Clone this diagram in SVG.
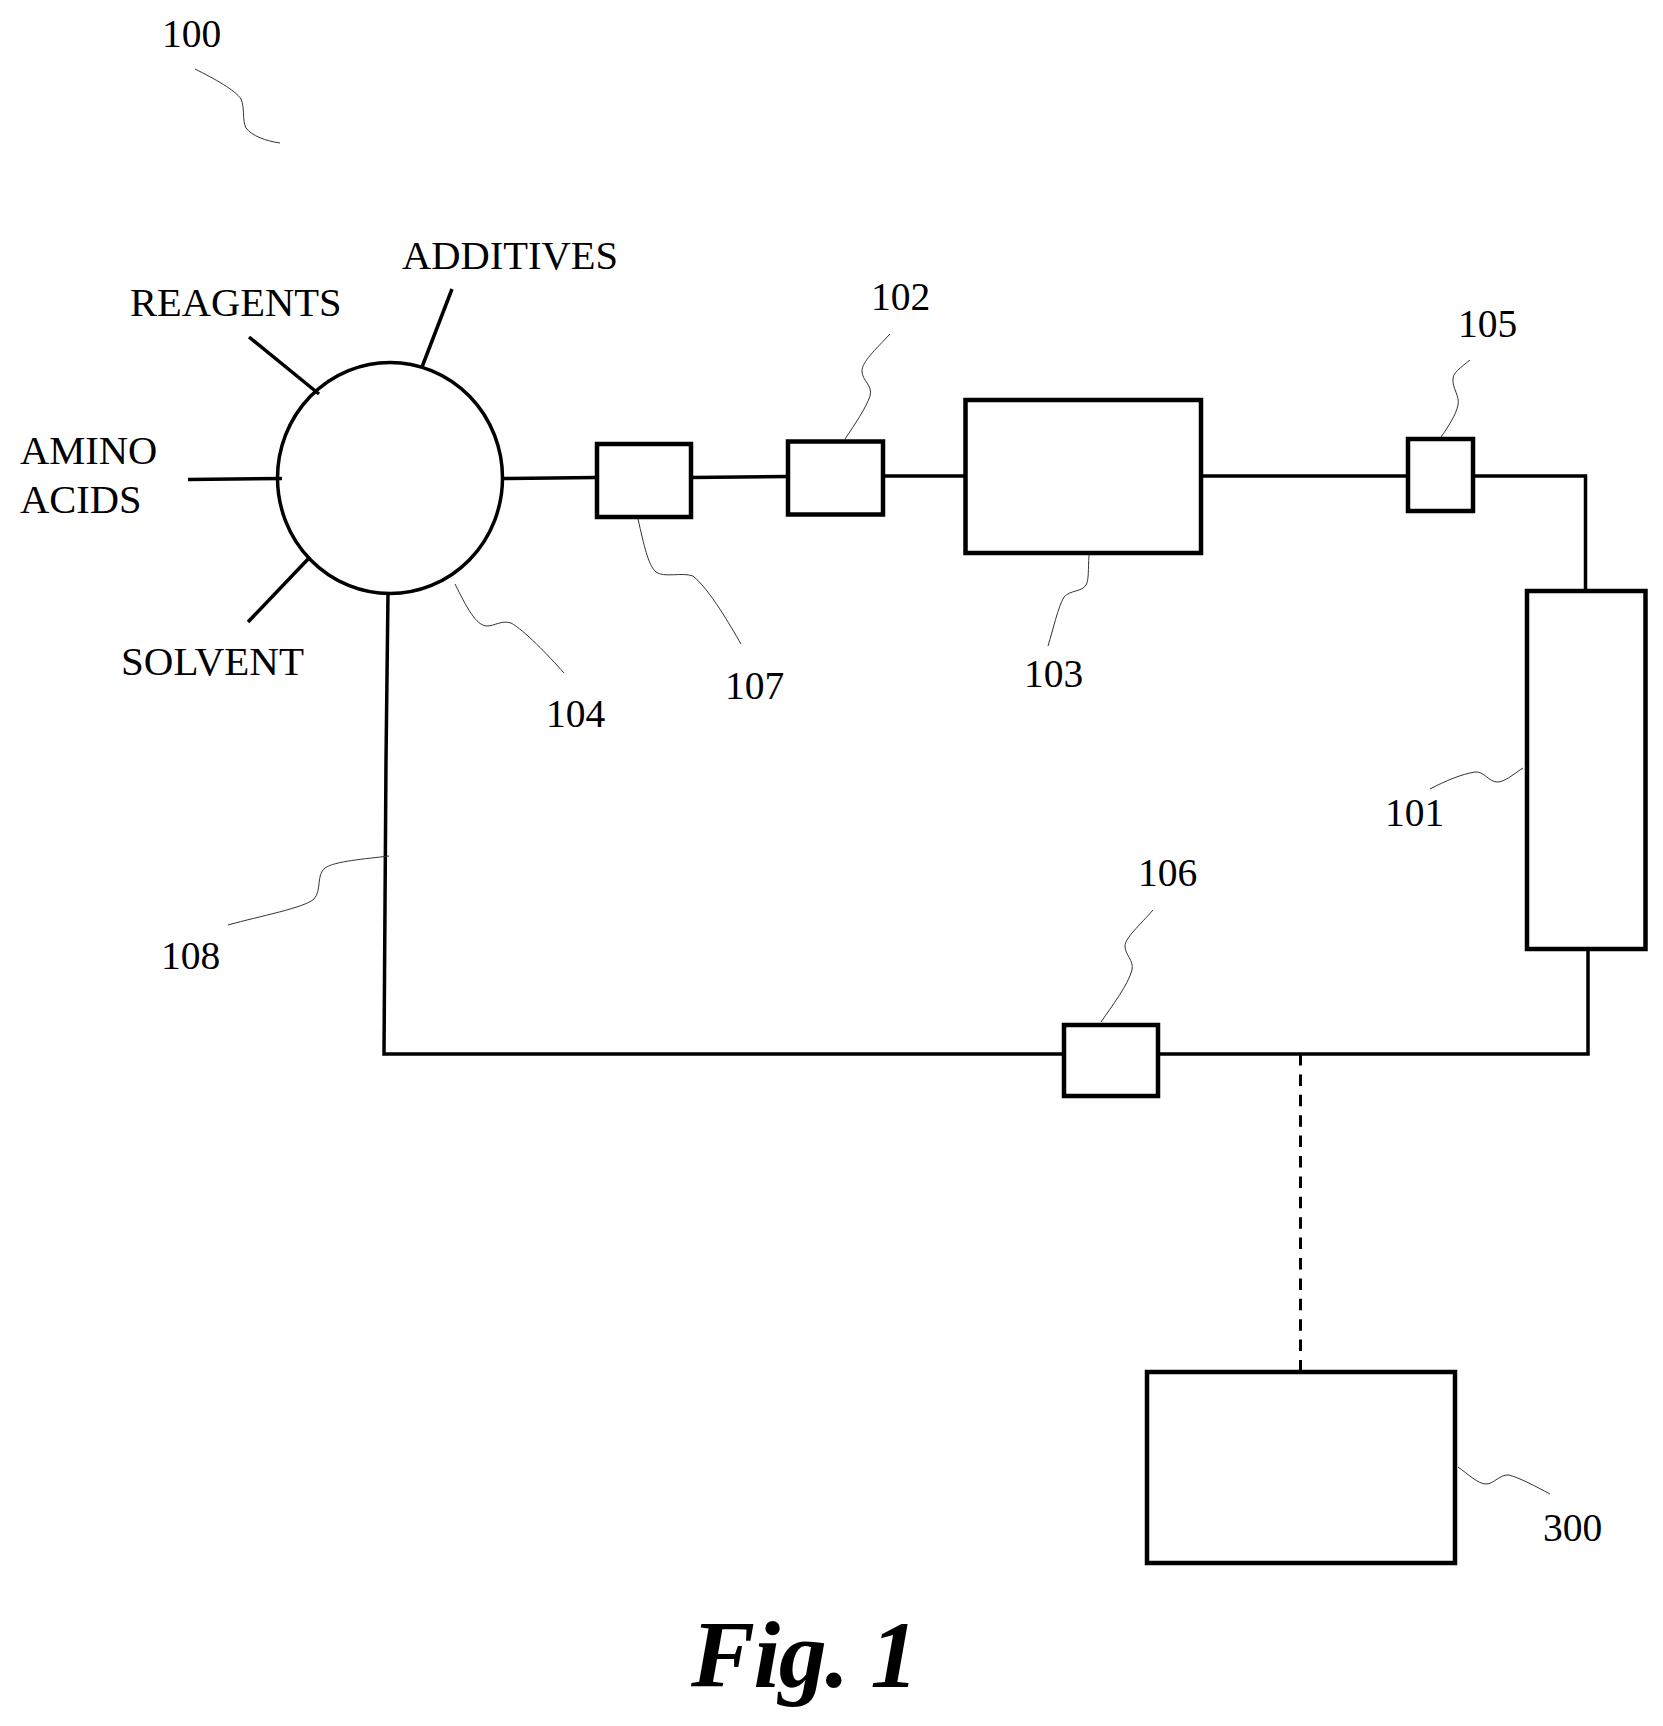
<svg xmlns="http://www.w3.org/2000/svg" width="1663" height="1726" viewBox="0 0 1663 1726">
<style>
text{font-family:"Liberation Serif","Times New Roman",serif;fill:#000}
.t{font-size:40.5px}
.n{font-size:39.5px}
.fig{font-size:96px;font-weight:bold;font-style:italic;letter-spacing:-1.5px}
.box{fill:#fff;stroke:#000;stroke-width:4.5}
.pipe{fill:none;stroke:#000;stroke-width:3.5}
.dash{stroke-width:3;stroke-dasharray:11.5 8.9}
.lead{fill:none;stroke:#333;stroke-width:1}
</style>
<rect width="1663" height="1726" fill="#fff"/>
<g id="connectors">
<path class="pipe" d="M452 289L422 367"/>
<path class="pipe" d="M249 337L319 394"/>
<path class="pipe" d="M188 479.5L282 478.5"/>
<path class="pipe" d="M248 622L310 557"/>
<path class="pipe" d="M503 478.5L597 477.5"/>
<path class="pipe" d="M691 477.5L788 476.5"/>
<path class="pipe" d="M883 476H966"/>
<path class="pipe" d="M1201 476H1408"/>
<path class="pipe" d="M1473 476H1585.5V591"/>
<path class="pipe" d="M1588 949V1054H1158"/>
<path class="pipe" d="M1064 1054H384L386 760L388 593"/>
<path class="pipe dash" d="M1300.5 1054V1372"/>
</g>
<g id="leaders">
<path class="lead" d="M195 69C215 79 235 90 241 99C245 108 242 120 246 128C252 136 266 141 280 143"/>
<path class="lead" d="M455 584C466 606 476 626 487 626C495 626 501 620 511 623C524 630 548 655 564 673"/>
<path class="lead" d="M638 519C644 545 648 565 656 572C664 578 682 572 693 576C710 590 730 625 741 644"/>
<path class="lead" d="M890 334C875 350 862 362 862 371C862 381 873 385 870 396C866 408 855 424 845 439"/>
<path class="lead" d="M1089 555C1088 570 1089 580 1086 585C1082 592 1070 590 1064 597C1058 607 1053 630 1048 646"/>
<path class="lead" d="M1470 360C1460 368 1453 373 1453 379C1452 388 1460 396 1458 405C1456 415 1448 427 1441 437"/>
<path class="lead" d="M1523 768C1512 775 1505 782 1497 782C1489 782 1484 771 1475 772C1462 774 1445 781 1430 789"/>
<path class="lead" d="M1153 910C1140 925 1125 938 1125 946C1125 955 1134 960 1132 970C1128 985 1112 1006 1101 1022"/>
<path class="lead" d="M389 856C365 859 335 861 325 868C316 875 322 890 314 899C304 908 260 916 228 925"/>
<path class="lead" d="M1458 1467C1468 1474 1478 1484 1486 1484C1494 1484 1500 1474 1509 1475C1520 1478 1535 1486 1550 1494"/>
</g>
<g id="node-104"><ellipse class="box" style="fill:none;stroke-width:3.5" cx="390" cy="478" rx="112.5" ry="115.5"/></g>
<g id="node-107"><rect class="box" x="597" y="444" width="94" height="73"/></g>
<g id="node-102"><rect class="box" x="788" y="441.500" width="95" height="73"/></g>
<g id="node-103"><rect class="box" x="965.500" y="400" width="235.500" height="153"/></g>
<g id="node-105"><rect class="box" x="1408" y="439" width="65" height="72"/></g>
<g id="node-101"><rect class="box" x="1527" y="591" width="118.500" height="358"/></g>
<g id="node-106"><rect class="box" x="1064" y="1025" width="94" height="71"/></g>
<g id="node-300"><rect class="box" x="1147" y="1372" width="308" height="191"/></g>
<g id="labels">
<text class="n" x="162" y="47">100</text>
<text class="t" x="402" y="269">ADDITIVES</text>
<text class="t" x="130" y="316">REAGENTS</text>
<text class="t" x="20" y="464">AMINO</text>
<text class="t" x="20" y="513">ACIDS</text>
<text class="t" x="121" y="675" style="font-size:41px">SOLVENT</text>
<text class="n" x="546" y="727">104</text>
<text class="n" x="725" y="699">107</text>
<text class="n" x="871" y="310">102</text>
<text class="n" x="1024" y="687">103</text>
<text class="n" x="1458" y="337">105</text>
<text class="n" x="1385" y="826">101</text>
<text class="n" x="1138" y="886">106</text>
<text class="n" x="161" y="969">108</text>
<text class="n" x="1543" y="1541">300</text>
<text class="fig" x="691" y="1687">Fig. 1</text>
</g>
</svg>
